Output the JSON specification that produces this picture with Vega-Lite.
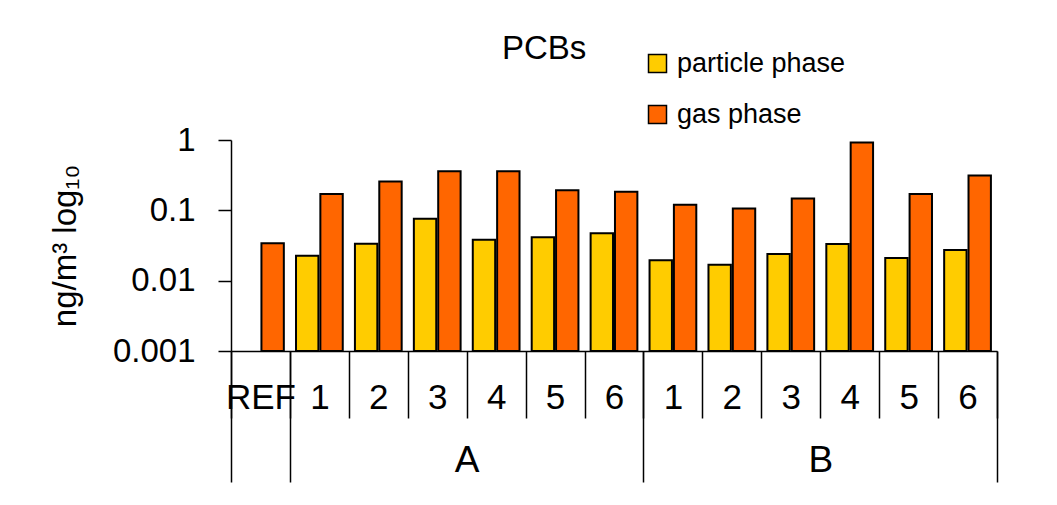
{
  "$schema": "https://vega.github.io/schema/vega-lite/v6.json",
  "width": 766,
  "height": 211,
  "autosize": {"type": "none"},
  "padding": {"left": 231, "top": 140, "right": 60, "bottom": 154},
  "background": "white",
  "config": {
    "font": "Liberation Sans",
    "view": {"stroke": null},
    "axis": {"labelColor": "black", "titleColor": "black", "domainColor": "black", "tickColor": "black", "grid": false, "domainWidth": 1.5, "tickWidth": 1.5}
  },
  "title": {"text": "PCBs", "frame": "group", "anchor": "start", "dx": 271, "offset": -42, "baseline": "alphabetic", "fontSize": 33, "fontWeight": "normal", "color": "black"},
  "layer": [
    {
      "data": {
        "values": [
          {"cat": "REF", "phase": "gas phase", "value": 0.034},
          {"cat": "A1", "phase": "particle phase", "value": 0.0227},
          {"cat": "A1", "phase": "gas phase", "value": 0.171},
          {"cat": "A2", "phase": "particle phase", "value": 0.0336},
          {"cat": "A2", "phase": "gas phase", "value": 0.256},
          {"cat": "A3", "phase": "particle phase", "value": 0.0762},
          {"cat": "A3", "phase": "gas phase", "value": 0.36},
          {"cat": "A4", "phase": "particle phase", "value": 0.0383},
          {"cat": "A4", "phase": "gas phase", "value": 0.36},
          {"cat": "A5", "phase": "particle phase", "value": 0.0414},
          {"cat": "A5", "phase": "gas phase", "value": 0.193},
          {"cat": "A6", "phase": "particle phase", "value": 0.0472},
          {"cat": "A6", "phase": "gas phase", "value": 0.183},
          {"cat": "B1", "phase": "particle phase", "value": 0.0195},
          {"cat": "B1", "phase": "gas phase", "value": 0.12},
          {"cat": "B2", "phase": "particle phase", "value": 0.0169},
          {"cat": "B2", "phase": "gas phase", "value": 0.106},
          {"cat": "B3", "phase": "particle phase", "value": 0.024},
          {"cat": "B3", "phase": "gas phase", "value": 0.147},
          {"cat": "B4", "phase": "particle phase", "value": 0.0333},
          {"cat": "B4", "phase": "gas phase", "value": 0.918},
          {"cat": "B5", "phase": "particle phase", "value": 0.021},
          {"cat": "B5", "phase": "gas phase", "value": 0.171},
          {"cat": "B6", "phase": "particle phase", "value": 0.0273},
          {"cat": "B6", "phase": "gas phase", "value": 0.312}
        ]
      },
      "mark": {"type": "bar", "stroke": "black", "strokeWidth": 2},
      "encoding": {
        "x": {
          "field": "cat", "type": "nominal",
          "sort": ["REF", "A1", "A2", "A3", "A4", "A5", "A6", "B1", "B2", "B3", "B4", "B5", "B6"],
          "scale": {"paddingInner": 0, "paddingOuter": 0},
          "axis": {"title": null, "orient": "bottom", "tickBand": "extent", "tickSize": 67, "labelAngle": 0, "labelFontSize": 35, "labelPadding": -38, "labelExpr": "isString(datum.value) ? (datum.value == 'REF' ? 'REF' : substring(datum.value, 1)) : ''"}
        },
        "xOffset": {"field": "phase", "type": "nominal", "sort": ["particle phase", "gas phase"], "scale": {"paddingInner": 0.08, "paddingOuter": 0.25}},
        "y": {
          "field": "value", "type": "quantitative",
          "scale": {"type": "log", "domain": [0.001, 1], "nice": false},
          "axis": {"title": "ng/m³ log₁₀", "titleFontSize": 33, "titleFontWeight": "normal", "titlePadding": 30, "values": [0.001, 0.01, 0.1, 1], "format": "~g", "labelFontSize": 33, "tickSize": 13, "labelPadding": 23}
        },
        "y2": {"datum": 0.001},
        "color": {
          "field": "phase", "type": "nominal",
          "scale": {"domain": ["particle phase", "gas phase"], "range": ["#FFCC00", "#FF6600"]},
          "legend": {"title": null, "orient": "none", "legendX": 413, "legendY": -90, "padding": 0, "symbolType": "square", "symbolSize": 324, "symbolStrokeColor": "black", "symbolStrokeWidth": 1.5, "symbolOpacity": 1, "labelFontSize": 27, "labelColor": "black", "labelLimit": 400, "labelOffset": 6, "rowPadding": 23}
        }
      }
    },
    {
      "data": {"values": [{"pos": 4, "group": "A"}, {"pos": 10, "group": "B"}]},
      "mark": {"type": "point", "opacity": 0},
      "encoding": {
        "x": {
          "field": "pos", "type": "quantitative",
          "scale": {"domain": [0, 13], "nice": false, "zero": false},
          "axis": {"orient": "bottom", "title": null, "values": [0, 1, 4, 7, 10, 13], "domain": false, "tickSize": 131,
            "tickOpacity": {"condition": {"test": "datum.value == 4 || datum.value == 10", "value": 0}, "value": 1},
            "labelExpr": "datum.value == 4 ? 'A' : datum.value == 10 ? 'B' : ''",
            "labelFontSize": 37, "labelPadding": -40, "labelFlush": false, "labelOverlap": false}
        }
      }
    }
  ],
  "resolve": {"scale": {"x": "independent"}, "axis": {"x": "independent"}}
}
